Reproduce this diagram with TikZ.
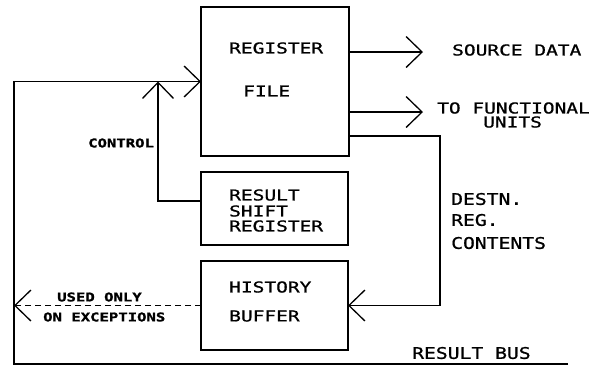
\documentclass[tikz,border=0pt]{standalone}
\usepackage{fontspec}
\usetikzlibrary{arrows.meta}
\newfontfamily\plotfont{DejaVu Sans Mono}[FakeStretch=1.3, FakeBold=1]
\newfontfamily\plotfonttwo{DejaVu Sans Mono}[FakeStretch=1.23, FakeBold=1]
\newfontfamily\plotbold{DejaVu Sans Mono Bold}[FakeStretch=1.3, FakeBold=1.5]
\tikzset{
  box/.style={draw, rectangle, line width=1.3pt, inner sep=0pt, outer sep=0pt},
  wire/.style={line width=1.3pt},
  arr/.style={wire, -{Straight Barb[length=16pt,width=31pt]}},
  lbl/.style={inner sep=0pt, anchor=west, font=\plotfont\fontsize{15}{15}\selectfont},
  lbltwo/.style={inner sep=0pt, anchor=west, font=\plotfonttwo\fontsize{16}{16}\selectfont},
  blbl/.style={inner sep=0pt, anchor=west, font=\plotbold\fontsize{12}{12}\selectfont},
}
\begin{document}
\begin{tikzpicture}[x=1pt,y=-1pt]
\useasboundingbox (0,0) rectangle (592,368);
% boxes
\node[box, minimum width=148pt, minimum height=149pt] (rf) at (275,81.5) {};
\node[box, minimum width=147pt, minimum height=73pt] (rsr) at (274.5,208.5) {};
\node[box, minimum width=147pt, minimum height=89pt] (hb) at (274.5,305.5) {};
% coordinates
\coordinate (srctip) at (423,52);
\coordinate (futip) at (423,112);
\coordinate (dcorner) at (440,136);
\coordinate (busend) at (568,364);
\coordinate (buscorner) at (14,364);
\coordinate (ctl) at (158,201);
\coordinate (exctip) at (14,306);
% connectors
\draw[arr] (rf.east |- srctip) -- (srctip);
\draw[arr] (rf.east |- futip) -- (futip);
\draw[arr] (rf.east |- dcorner) -- (dcorner) |- (hb.east);
\draw[arr] (busend) -- (buscorner) |- (rf.west);
\draw[arr] (rsr.west |- ctl) -- (ctl) -- (ctl |- rf.west);
\draw[arr, dash pattern=on 6pt off 4pt] (hb.west) -- (hb.west -| exctip);
% labels
\node[lbl] (tReg) at (229,48) {REGISTER};
\node[lbl] (tFile) at (243,91) {FILE};
\node[lbl] (tSrc) at (452,50) {SOURCE DATA};
\node[lbl] (tFuA) at (437,108) {TO FUNCTIONAL};
\node[lbl] (tFuB) at (483,122) {UNITS};
\node[blbl] (tCtl) at (88,143) {CONTROL};
\node[lbl] (tResA) at (229,195) {RESULT};
\node[lbl] (tResB) at (229,211) {SHIFT};
\node[lbl] (tResC) at (229,226) {REGISTER};
\node[lbltwo] (tDA) at (451,199) {DESTN.};
\node[lbltwo] (tDB) at (451,220) {REG.};
\node[lbltwo] (tDC) at (451,243) {CONTENTS};
\node[lbl] (tHA) at (229,287) {HISTORY};
\node[lbl] (tHB) at (229,316) {BUFFER};
\node[blbl] (tUA) at (57,297) {USED ONLY};
\node[blbl] (tUB) at (43,317) {ON EXCEPTIONS};
\node[lbltwo] (tBus) at (412,353) {RESULT BUS};
\end{tikzpicture}
\end{document}
